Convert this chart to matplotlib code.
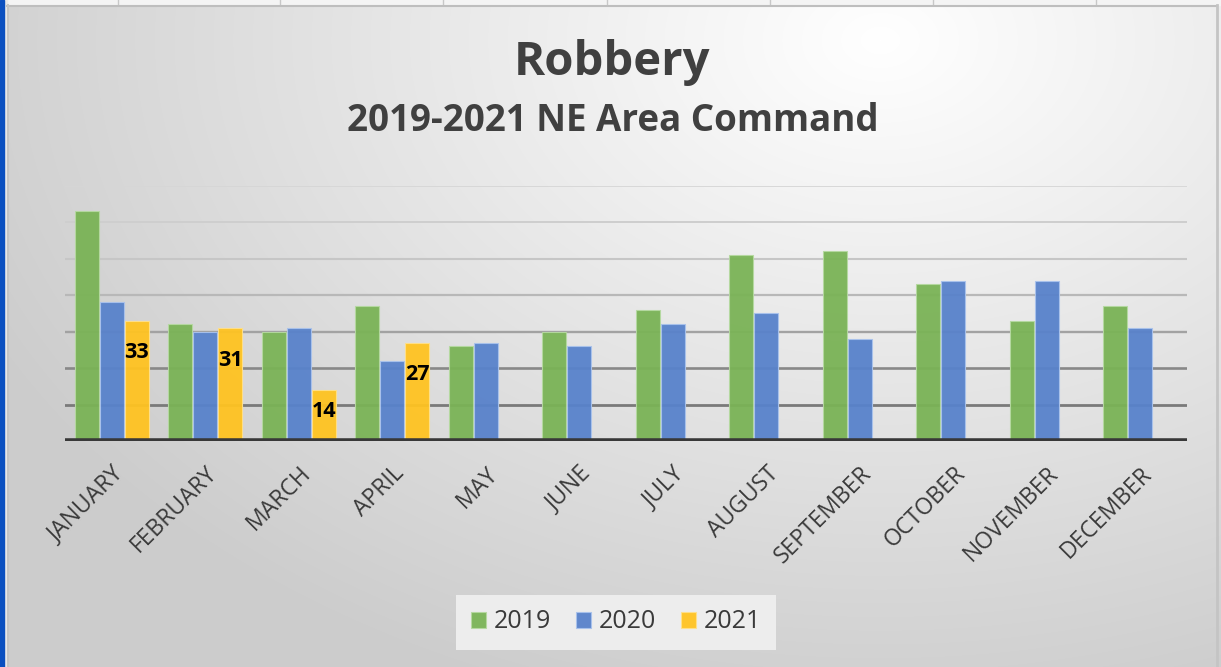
import numpy as np
import matplotlib
matplotlib.use("Agg")
import matplotlib.pyplot as plt
from matplotlib.patches import Rectangle

plt.rcParams['font.family'] = ['Open Sans', 'DejaVu Sans']

# data
months = ['JANUARY', 'FEBRUARY', 'MARCH', 'APRIL', 'MAY', 'JUNE', 'JULY',
          'AUGUST', 'SEPTEMBER', 'OCTOBER', 'NOVEMBER', 'DECEMBER']
years = ['2019', '2020', '2021']
y2019 = [63, 32, 30, 37, 26, 30, 36, 51, 52, 43, 33, 37]
y2020 = [38, 30, 31, 22, 27, 26, 32, 35, 28, 44, 44, 31]
y2021 = [33, 31, 14, 27, None, None, None, None, None, None, None, None]
colors = ['#7AB356', '#5882CB', '#FFC321']
edges = ['#B5D9A0', '#A9C2EC', '#FFE08A']

W, H = 1221, 667
fig = plt.figure(figsize=(W / 100, H / 100), dpi=100)

# background gradient like the Excel chart area
bg = fig.add_axes([0, 0, 1, 1])
yy, xx = np.mgrid[0:H, 0:W]
d = np.sqrt(((xx - 880) / 1000.0) ** 2 + ((yy - 40) / 700.0) ** 2)
shade = np.clip(1.0 - 0.20 * d, 0.80, 1.0)
bg.imshow(np.dstack([shade] * 3), extent=[0, W, H, 0], aspect='auto')
bg.set_xlim(0, W)
bg.set_ylim(H, 0)
bg.axis('off')
# window frame bits
bg.add_patch(Rectangle((0, 0), W, 5, color='#F4F4F4', zorder=2))
for cx in [118, 280, 443, 607, 770, 933, 1096]:
    bg.plot([cx, cx], [0, 5], color='#C8C8C8', lw=1, zorder=3)
bg.plot([7, W - 4], [5.5, 5.5], color='#BEBEBE', lw=1.5, zorder=3)
bg.add_patch(Rectangle((0, 0), 7, H, color='#E9E9E9', zorder=2))
bg.add_patch(Rectangle((0, 0), 3.5, H, color='#0A4FC0', zorder=3))
bg.plot([7.5, 7.5], [5, H], color='#C4C4C4', lw=1.5, zorder=3)
bg.plot([W - 4, W - 4], [5, H], color='#C4C4C4', lw=2, zorder=3)

# plot area
left, right, top, bottom = 65, 1187, 185.7, 441
ax = fig.add_axes([left / W, 1 - bottom / H, (right - left) / W, (bottom - top) / H])
ax.patch.set_alpha(0)

x = np.arange(len(months))
bw = 0.268
series = [y2019, y2020, y2021]

grid_cols = ['#7A7A7A', '#888888', '#A2A2A2', '#B8B8B8', '#C6C6C6', '#CECECE', '#D6D6D6']
grid_lw = [2.0, 1.9, 1.7, 1.6, 1.5, 1.4, 1.3]
for i, g in enumerate(range(10, 80, 10)):
    ax.axhline(g, color=grid_cols[i], lw=grid_lw[i], zorder=0)

for k, vals in enumerate(series):
    xs = [xi + (k - 1) * bw for xi, v in zip(x, vals) if v is not None]
    hs = [v for v in vals if v is not None]
    ax.bar(xs, hs, width=bw * 0.97, color=colors[k], edgecolor=edges[k],
           linewidth=0.8, alpha=0.95, zorder=2, label=years[k])

# data labels for 2021
for xi, v in zip(x, y2021):
    if v is None:
        continue
    ax.text(xi + bw, v - min(8.8, 0.43 * v), str(v), ha='center', va='center',
            fontsize=15.5, fontweight='bold', color='black', zorder=4)

ax.axhline(0, color='#383838', lw=4, zorder=5)
ax.set_xlim(-0.5, len(months) - 0.5)
ax.set_ylim(0, 70)
ax.set_yticks([])
ax.set_xticks(x)
ax.set_xticklabels(months, rotation=45, ha='right', va='top',
                   rotation_mode='anchor', fontsize=16.5, color='#3A3A3A')
ax.tick_params(axis='x', length=0, pad=15)
for s in ax.spines.values():
    s.set_visible(False)

fig.text(0.5015, 1 - 63 / H, 'Robbery', ha='center', va='center',
         fontsize=34, fontweight='bold', color='#404040')
fig.text(0.5015, 1 - 121 / H, '2019-2021 NE Area Command', ha='center',
         va='center', fontsize=26.5, fontweight='bold', color='#404040')

leg = fig.legend(loc='center', bbox_to_anchor=(616 / W, 1 - 622 / H), ncol=3,
                 fontsize=18, frameon=True, facecolor='#EDEDED', edgecolor='none',
                 framealpha=1, fancybox=False, handlelength=0.6, handleheight=0.6,
                 handletextpad=0.3, columnspacing=1.0, borderpad=0.6)
for t in leg.get_texts():
    t.set_color('#3A3A3A')

fig.savefig('out.png', dpi=100)
